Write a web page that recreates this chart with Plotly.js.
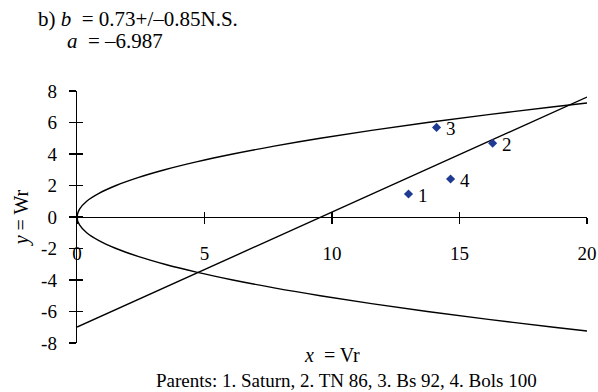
<!DOCTYPE html>
<html>
<head>
<meta charset="utf-8">
<script src="https://cdn.plot.ly/plotly-3.0.1.min.js"></script>
<style>html,body{margin:0;padding:0;background:#fff;}#chart{width:598px;height:392px;}</style>
</head>
<body>
<div id="chart"></div>
<script>
// Parent points (Vr, Wr)
const pointLabels = ["1", "2", "3", "4"];
const vr = [13.0, 16.3, 14.1, 14.65];
const wr = [1.46, 4.68, 5.69, 2.41];

// Regression line Wr = a + b*Vr (end points)
const lineVr = [0, 20];
const lineWr = [-6.987, 7.613];

// Limiting parabola
const parabolaWr = [-7.24, -7, -6.5, -6, -5.5, -5, -4.5, -4, -3.5, -3, -2.5, -2, -1.5, -1, -0.5, 0,
                    0.5, 1, 1.5, 2, 2.5, 3, 3.5, 4, 4.5, 5, 5.5, 6, 6.5, 7, 7.24];
const parabolaVr = [20.0, 18.70, 16.13, 13.74, 11.55, 9.54, 7.73, 6.11, 4.68, 3.44, 2.39, 1.53, 0.86, 0.38, 0.10, 0,
                    0.10, 0.38, 0.86, 1.53, 2.39, 3.44, 4.68, 6.11, 7.73, 9.54, 11.55, 13.74, 16.13, 18.70, 20.0];

// Axis ticks
const xTickVals = [0, 5, 10, 15, 20];
const xTickText = ["0", "5", "10", "15", "20"];
const yTickVals = [-8, -6, -4, -2, 0, 2, 4, 6, 8];
const yTickText = ["-8", "-6", "-4", "-2", "0", "2", "4", "6", "8"];

const FONT = "Liberation Serif, Times New Roman, serif";
const FS = 19;
const FT = 21;

const traces = [
  {x: parabolaVr, y: parabolaWr, type: "scatter", mode: "lines",
   line: {color: "#000", width: 1.4, shape: "spline", smoothing: 1}, hoverinfo: "skip"},
  {x: lineVr, y: lineWr, type: "scatter", mode: "lines",
   line: {color: "#000", width: 1.4}, hoverinfo: "skip"},
  {x: vr, y: wr, type: "scatter", mode: "markers",
   marker: {symbol: "diamond", size: 7, color: "#1f3a93"}}
];

const pointAnnotations = pointLabels.map((t, i) => ({
  x: vr[i], y: wr[i], xref: "x", yref: "y", text: t, showarrow: false,
  xanchor: "left", yanchor: "middle", xshift: 7, yshift: -1,
  font: {family: FONT, size: FS, color: "#000"}
}));

const layout = {
  width: 598, height: 392,
  margin: {l: 77, r: 11, t: 91, b: 49},
  paper_bgcolor: "#fff", plot_bgcolor: "#fff",
  showlegend: false,
  font: {family: FONT, size: FS, color: "#000"},
  xaxis: {
    range: [0, 20], anchor: "free", position: 0.5,
    showgrid: false, zeroline: false,
    showline: true, linecolor: "#000", linewidth: 1.3,
    ticks: "outside", ticklen: 6, tickwidth: 1.3, tickcolor: "#000",
    tickmode: "array", tickvals: xTickVals, ticktext: xTickText,
    ticklabelstandoff: 13,
    tickfont: {family: FONT, size: FS, color: "#000"}
  },
  xaxis2: {
    range: [0, 20], overlaying: "x", anchor: "free", position: 0.5,
    showgrid: false, zeroline: false, showline: false,
    ticks: "inside", ticklen: 5, tickwidth: 1.3, tickcolor: "#000",
    tickmode: "array", tickvals: xTickVals, showticklabels: false
  },
  yaxis: {
    range: [-8, 8],
    showgrid: false, zeroline: false,
    showline: true, linecolor: "#000", linewidth: 1.3,
    ticks: "outside", ticklen: 7, tickwidth: 1.3, tickcolor: "#000",
    tickmode: "array", tickvals: yTickVals, ticktext: yTickText,
    ticklabelstandoff: 8,
    tickfont: {family: FONT, size: FS, color: "#000"},
    title: {text: "<i>y</i> = Wr", font: {family: FONT, size: 20, color: "#000"}, standoff: 7}
  },
  yaxis2: {
    range: [-8, 8], overlaying: "y", anchor: "x", side: "left",
    showgrid: false, zeroline: false, showline: false,
    ticks: "inside", ticklen: 6, tickwidth: 1.3, tickcolor: "#000",
    tickmode: "array", tickvals: yTickVals, showticklabels: false
  },
  annotations: [
    {xref: "paper", yref: "paper", x: -0.080, y: 1.286, xanchor: "left", yanchor: "middle",
     text: "b) <i>b</i>  = 0.73+/–0.85N.S.", showarrow: false, font: {family: FONT, size: FT}},
    {xref: "paper", yref: "paper", x: -0.0235, y: 1.198, xanchor: "left", yanchor: "middle",
     text: "<i>a</i>  = –6.987", showarrow: false, font: {family: FONT, size: FT}},
    {xref: "paper", yref: "paper", x: 0.5, y: -0.048, xanchor: "center", yanchor: "middle",
     text: "<i>x</i>  = Vr", showarrow: false, font: {family: FONT, size: 20}},
    {xref: "paper", yref: "paper", x: 0.529, y: -0.147, xanchor: "center", yanchor: "middle",
     text: "Parents: 1. Saturn, 2. TN 86, 3. Bs 92, 4. Bols 100", showarrow: false, font: {family: FONT, size: FS}}
  ].concat(pointAnnotations)
};

// dummy trace to activate overlay axes
traces.push({x: [null], y: [null], xaxis: "x2", yaxis: "y2", type: "scatter", mode: "markers", hoverinfo: "skip"});

Plotly.newPlot("chart", traces, layout, {displayModeBar: false, staticPlot: true});
</script>
</body>
</html>
